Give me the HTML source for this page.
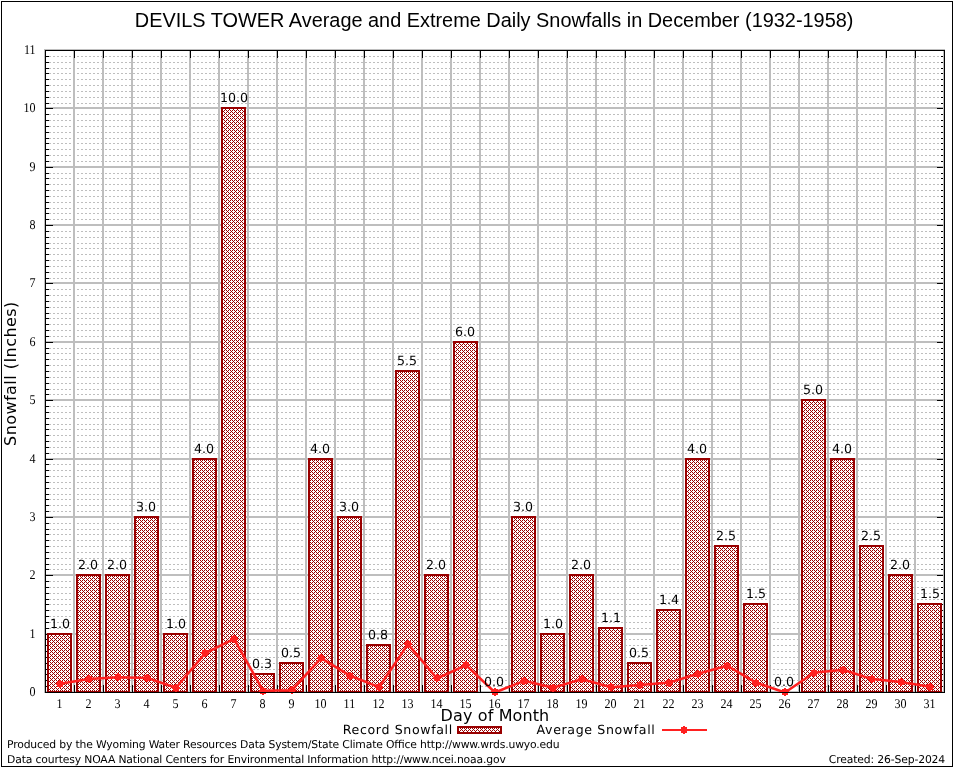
<!DOCTYPE html>
<html><head><meta charset="utf-8"><title>DEVILS TOWER Average and Extreme Daily Snowfalls in December</title>
<style>
html,body{margin:0;padding:0;background:#fff;}
body{width:954px;height:768px;overflow:hidden;position:relative;}
svg{position:absolute;left:0;top:0;display:block;}
.t{font-family:"Liberation Sans",sans-serif;font-size:19.9px;fill:#000;}
.s{font-family:"Liberation Serif",serif;font-size:13.4px;text-rendering:geometricPrecision;fill:#000;}
.d{font-family:"DejaVu Sans","Liberation Sans",sans-serif;fill:#000;}
.g{text-rendering:geometricPrecision;}
</style></head><body>
<svg width="954" height="768" viewBox="0 0 954 768">
<defs><pattern id="h" patternUnits="userSpaceOnUse" x="0" y="0" width="4" height="4">
<rect width="4" height="4" fill="#fff"/>
<path d="M0 0h1v1h-1zM2 0h1v1h-1zM1 1h1v1h-1zM0 2h1v1h-1zM2 2h1v1h-1zM3 3h1v1h-1z" fill="#990000"/>
</pattern></defs>
<rect width="954" height="768" fill="#fff"/>
<g shape-rendering="crispEdges">
<rect x="1.5" y="1.5" width="951" height="765" fill="none" stroke="#000" stroke-width="1"/>

<line x1="49" x2="941" y1="686.5" y2="686.5" stroke="#bebebe" stroke-width="1" stroke-dasharray="2 2"/>
<line x1="49" x2="941" y1="680.5" y2="680.5" stroke="#bebebe" stroke-width="1" stroke-dasharray="2 2"/>
<line x1="49" x2="941" y1="674.5" y2="674.5" stroke="#bebebe" stroke-width="1" stroke-dasharray="2 2"/>
<line x1="49" x2="941" y1="669.5" y2="669.5" stroke="#bebebe" stroke-width="1" stroke-dasharray="2 2"/>
<line x1="49" x2="941" y1="663.5" y2="663.5" stroke="#bebebe" stroke-width="1" stroke-dasharray="2 2"/>
<line x1="49" x2="941" y1="657.5" y2="657.5" stroke="#bebebe" stroke-width="1" stroke-dasharray="2 2"/>
<line x1="49" x2="941" y1="651.5" y2="651.5" stroke="#bebebe" stroke-width="1" stroke-dasharray="2 2"/>
<line x1="49" x2="941" y1="645.5" y2="645.5" stroke="#bebebe" stroke-width="1" stroke-dasharray="2 2"/>
<line x1="49" x2="941" y1="639.5" y2="639.5" stroke="#bebebe" stroke-width="1" stroke-dasharray="2 2"/>
<line x1="49" x2="941" y1="628.5" y2="628.5" stroke="#bebebe" stroke-width="1" stroke-dasharray="2 2"/>
<line x1="49" x2="941" y1="622.5" y2="622.5" stroke="#bebebe" stroke-width="1" stroke-dasharray="2 2"/>
<line x1="49" x2="941" y1="616.5" y2="616.5" stroke="#bebebe" stroke-width="1" stroke-dasharray="2 2"/>
<line x1="49" x2="941" y1="610.5" y2="610.5" stroke="#bebebe" stroke-width="1" stroke-dasharray="2 2"/>
<line x1="49" x2="941" y1="604.5" y2="604.5" stroke="#bebebe" stroke-width="1" stroke-dasharray="2 2"/>
<line x1="49" x2="941" y1="599.5" y2="599.5" stroke="#bebebe" stroke-width="1" stroke-dasharray="2 2"/>
<line x1="49" x2="941" y1="593.5" y2="593.5" stroke="#bebebe" stroke-width="1" stroke-dasharray="2 2"/>
<line x1="49" x2="941" y1="587.5" y2="587.5" stroke="#bebebe" stroke-width="1" stroke-dasharray="2 2"/>
<line x1="49" x2="941" y1="581.5" y2="581.5" stroke="#bebebe" stroke-width="1" stroke-dasharray="2 2"/>
<line x1="49" x2="941" y1="569.5" y2="569.5" stroke="#bebebe" stroke-width="1" stroke-dasharray="2 2"/>
<line x1="49" x2="941" y1="564.5" y2="564.5" stroke="#bebebe" stroke-width="1" stroke-dasharray="2 2"/>
<line x1="49" x2="941" y1="558.5" y2="558.5" stroke="#bebebe" stroke-width="1" stroke-dasharray="2 2"/>
<line x1="49" x2="941" y1="552.5" y2="552.5" stroke="#bebebe" stroke-width="1" stroke-dasharray="2 2"/>
<line x1="49" x2="941" y1="546.5" y2="546.5" stroke="#bebebe" stroke-width="1" stroke-dasharray="2 2"/>
<line x1="49" x2="941" y1="540.5" y2="540.5" stroke="#bebebe" stroke-width="1" stroke-dasharray="2 2"/>
<line x1="49" x2="941" y1="534.5" y2="534.5" stroke="#bebebe" stroke-width="1" stroke-dasharray="2 2"/>
<line x1="49" x2="941" y1="529.5" y2="529.5" stroke="#bebebe" stroke-width="1" stroke-dasharray="2 2"/>
<line x1="49" x2="941" y1="523.5" y2="523.5" stroke="#bebebe" stroke-width="1" stroke-dasharray="2 2"/>
<line x1="49" x2="941" y1="511.5" y2="511.5" stroke="#bebebe" stroke-width="1" stroke-dasharray="2 2"/>
<line x1="49" x2="941" y1="505.5" y2="505.5" stroke="#bebebe" stroke-width="1" stroke-dasharray="2 2"/>
<line x1="49" x2="941" y1="499.5" y2="499.5" stroke="#bebebe" stroke-width="1" stroke-dasharray="2 2"/>
<line x1="49" x2="941" y1="494.5" y2="494.5" stroke="#bebebe" stroke-width="1" stroke-dasharray="2 2"/>
<line x1="49" x2="941" y1="488.5" y2="488.5" stroke="#bebebe" stroke-width="1" stroke-dasharray="2 2"/>
<line x1="49" x2="941" y1="482.5" y2="482.5" stroke="#bebebe" stroke-width="1" stroke-dasharray="2 2"/>
<line x1="49" x2="941" y1="476.5" y2="476.5" stroke="#bebebe" stroke-width="1" stroke-dasharray="2 2"/>
<line x1="49" x2="941" y1="470.5" y2="470.5" stroke="#bebebe" stroke-width="1" stroke-dasharray="2 2"/>
<line x1="49" x2="941" y1="464.5" y2="464.5" stroke="#bebebe" stroke-width="1" stroke-dasharray="2 2"/>
<line x1="49" x2="941" y1="453.5" y2="453.5" stroke="#bebebe" stroke-width="1" stroke-dasharray="2 2"/>
<line x1="49" x2="941" y1="447.5" y2="447.5" stroke="#bebebe" stroke-width="1" stroke-dasharray="2 2"/>
<line x1="49" x2="941" y1="441.5" y2="441.5" stroke="#bebebe" stroke-width="1" stroke-dasharray="2 2"/>
<line x1="49" x2="941" y1="435.5" y2="435.5" stroke="#bebebe" stroke-width="1" stroke-dasharray="2 2"/>
<line x1="49" x2="941" y1="429.5" y2="429.5" stroke="#bebebe" stroke-width="1" stroke-dasharray="2 2"/>
<line x1="49" x2="941" y1="424.5" y2="424.5" stroke="#bebebe" stroke-width="1" stroke-dasharray="2 2"/>
<line x1="49" x2="941" y1="418.5" y2="418.5" stroke="#bebebe" stroke-width="1" stroke-dasharray="2 2"/>
<line x1="49" x2="941" y1="412.5" y2="412.5" stroke="#bebebe" stroke-width="1" stroke-dasharray="2 2"/>
<line x1="49" x2="941" y1="406.5" y2="406.5" stroke="#bebebe" stroke-width="1" stroke-dasharray="2 2"/>
<line x1="49" x2="941" y1="394.5" y2="394.5" stroke="#bebebe" stroke-width="1" stroke-dasharray="2 2"/>
<line x1="49" x2="941" y1="389.5" y2="389.5" stroke="#bebebe" stroke-width="1" stroke-dasharray="2 2"/>
<line x1="49" x2="941" y1="383.5" y2="383.5" stroke="#bebebe" stroke-width="1" stroke-dasharray="2 2"/>
<line x1="49" x2="941" y1="377.5" y2="377.5" stroke="#bebebe" stroke-width="1" stroke-dasharray="2 2"/>
<line x1="49" x2="941" y1="371.5" y2="371.5" stroke="#bebebe" stroke-width="1" stroke-dasharray="2 2"/>
<line x1="49" x2="941" y1="365.5" y2="365.5" stroke="#bebebe" stroke-width="1" stroke-dasharray="2 2"/>
<line x1="49" x2="941" y1="359.5" y2="359.5" stroke="#bebebe" stroke-width="1" stroke-dasharray="2 2"/>
<line x1="49" x2="941" y1="353.5" y2="353.5" stroke="#bebebe" stroke-width="1" stroke-dasharray="2 2"/>
<line x1="49" x2="941" y1="348.5" y2="348.5" stroke="#bebebe" stroke-width="1" stroke-dasharray="2 2"/>
<line x1="49" x2="941" y1="336.5" y2="336.5" stroke="#bebebe" stroke-width="1" stroke-dasharray="2 2"/>
<line x1="49" x2="941" y1="330.5" y2="330.5" stroke="#bebebe" stroke-width="1" stroke-dasharray="2 2"/>
<line x1="49" x2="941" y1="324.5" y2="324.5" stroke="#bebebe" stroke-width="1" stroke-dasharray="2 2"/>
<line x1="49" x2="941" y1="318.5" y2="318.5" stroke="#bebebe" stroke-width="1" stroke-dasharray="2 2"/>
<line x1="49" x2="941" y1="313.5" y2="313.5" stroke="#bebebe" stroke-width="1" stroke-dasharray="2 2"/>
<line x1="49" x2="941" y1="307.5" y2="307.5" stroke="#bebebe" stroke-width="1" stroke-dasharray="2 2"/>
<line x1="49" x2="941" y1="301.5" y2="301.5" stroke="#bebebe" stroke-width="1" stroke-dasharray="2 2"/>
<line x1="49" x2="941" y1="295.5" y2="295.5" stroke="#bebebe" stroke-width="1" stroke-dasharray="2 2"/>
<line x1="49" x2="941" y1="289.5" y2="289.5" stroke="#bebebe" stroke-width="1" stroke-dasharray="2 2"/>
<line x1="49" x2="941" y1="278.5" y2="278.5" stroke="#bebebe" stroke-width="1" stroke-dasharray="2 2"/>
<line x1="49" x2="941" y1="272.5" y2="272.5" stroke="#bebebe" stroke-width="1" stroke-dasharray="2 2"/>
<line x1="49" x2="941" y1="266.5" y2="266.5" stroke="#bebebe" stroke-width="1" stroke-dasharray="2 2"/>
<line x1="49" x2="941" y1="260.5" y2="260.5" stroke="#bebebe" stroke-width="1" stroke-dasharray="2 2"/>
<line x1="49" x2="941" y1="254.5" y2="254.5" stroke="#bebebe" stroke-width="1" stroke-dasharray="2 2"/>
<line x1="49" x2="941" y1="248.5" y2="248.5" stroke="#bebebe" stroke-width="1" stroke-dasharray="2 2"/>
<line x1="49" x2="941" y1="243.5" y2="243.5" stroke="#bebebe" stroke-width="1" stroke-dasharray="2 2"/>
<line x1="49" x2="941" y1="237.5" y2="237.5" stroke="#bebebe" stroke-width="1" stroke-dasharray="2 2"/>
<line x1="49" x2="941" y1="231.5" y2="231.5" stroke="#bebebe" stroke-width="1" stroke-dasharray="2 2"/>
<line x1="49" x2="941" y1="219.5" y2="219.5" stroke="#bebebe" stroke-width="1" stroke-dasharray="2 2"/>
<line x1="49" x2="941" y1="213.5" y2="213.5" stroke="#bebebe" stroke-width="1" stroke-dasharray="2 2"/>
<line x1="49" x2="941" y1="208.5" y2="208.5" stroke="#bebebe" stroke-width="1" stroke-dasharray="2 2"/>
<line x1="49" x2="941" y1="202.5" y2="202.5" stroke="#bebebe" stroke-width="1" stroke-dasharray="2 2"/>
<line x1="49" x2="941" y1="196.5" y2="196.5" stroke="#bebebe" stroke-width="1" stroke-dasharray="2 2"/>
<line x1="49" x2="941" y1="190.5" y2="190.5" stroke="#bebebe" stroke-width="1" stroke-dasharray="2 2"/>
<line x1="49" x2="941" y1="184.5" y2="184.5" stroke="#bebebe" stroke-width="1" stroke-dasharray="2 2"/>
<line x1="49" x2="941" y1="178.5" y2="178.5" stroke="#bebebe" stroke-width="1" stroke-dasharray="2 2"/>
<line x1="49" x2="941" y1="173.5" y2="173.5" stroke="#bebebe" stroke-width="1" stroke-dasharray="2 2"/>
<line x1="49" x2="941" y1="161.5" y2="161.5" stroke="#bebebe" stroke-width="1" stroke-dasharray="2 2"/>
<line x1="49" x2="941" y1="155.5" y2="155.5" stroke="#bebebe" stroke-width="1" stroke-dasharray="2 2"/>
<line x1="49" x2="941" y1="149.5" y2="149.5" stroke="#bebebe" stroke-width="1" stroke-dasharray="2 2"/>
<line x1="49" x2="941" y1="143.5" y2="143.5" stroke="#bebebe" stroke-width="1" stroke-dasharray="2 2"/>
<line x1="49" x2="941" y1="138.5" y2="138.5" stroke="#bebebe" stroke-width="1" stroke-dasharray="2 2"/>
<line x1="49" x2="941" y1="132.5" y2="132.5" stroke="#bebebe" stroke-width="1" stroke-dasharray="2 2"/>
<line x1="49" x2="941" y1="126.5" y2="126.5" stroke="#bebebe" stroke-width="1" stroke-dasharray="2 2"/>
<line x1="49" x2="941" y1="120.5" y2="120.5" stroke="#bebebe" stroke-width="1" stroke-dasharray="2 2"/>
<line x1="49" x2="941" y1="114.5" y2="114.5" stroke="#bebebe" stroke-width="1" stroke-dasharray="2 2"/>
<line x1="49" x2="941" y1="103.5" y2="103.5" stroke="#bebebe" stroke-width="1" stroke-dasharray="2 2"/>
<line x1="49" x2="941" y1="97.5" y2="97.5" stroke="#bebebe" stroke-width="1" stroke-dasharray="2 2"/>
<line x1="49" x2="941" y1="91.5" y2="91.5" stroke="#bebebe" stroke-width="1" stroke-dasharray="2 2"/>
<line x1="49" x2="941" y1="85.5" y2="85.5" stroke="#bebebe" stroke-width="1" stroke-dasharray="2 2"/>
<line x1="49" x2="941" y1="79.5" y2="79.5" stroke="#bebebe" stroke-width="1" stroke-dasharray="2 2"/>
<line x1="49" x2="941" y1="73.5" y2="73.5" stroke="#bebebe" stroke-width="1" stroke-dasharray="2 2"/>
<line x1="49" x2="941" y1="68.5" y2="68.5" stroke="#bebebe" stroke-width="1" stroke-dasharray="2 2"/>
<line x1="49" x2="941" y1="62.5" y2="62.5" stroke="#bebebe" stroke-width="1" stroke-dasharray="2 2"/>
<line x1="49" x2="941" y1="56.5" y2="56.5" stroke="#bebebe" stroke-width="1" stroke-dasharray="2 2"/>
<rect x="44" y="691" width="901" height="2" fill="#bebebe"/>
<rect x="44" y="633" width="901" height="2" fill="#bebebe"/>
<rect x="44" y="574" width="901" height="2" fill="#bebebe"/>
<rect x="44" y="516" width="901" height="2" fill="#bebebe"/>
<rect x="44" y="458" width="901" height="2" fill="#bebebe"/>
<rect x="44" y="399" width="901" height="2" fill="#bebebe"/>
<rect x="44" y="341" width="901" height="2" fill="#bebebe"/>
<rect x="44" y="282" width="901" height="2" fill="#bebebe"/>
<rect x="44" y="224" width="901" height="2" fill="#bebebe"/>
<rect x="44" y="166" width="901" height="2" fill="#bebebe"/>
<rect x="44" y="107" width="901" height="2" fill="#bebebe"/>
<rect x="44" y="49" width="901" height="2" fill="#bebebe"/>
<rect fill="#000" x="45" y="692" width="8" height="1"/><rect fill="#000" x="937" y="692" width="8" height="1"/>
<rect fill="#000" x="45" y="686" width="4" height="1"/><rect fill="#000" x="941" y="686" width="4" height="1"/>
<rect fill="#000" x="45" y="680" width="4" height="1"/><rect fill="#000" x="941" y="680" width="4" height="1"/>
<rect fill="#000" x="45" y="674" width="4" height="1"/><rect fill="#000" x="941" y="674" width="4" height="1"/>
<rect fill="#000" x="45" y="669" width="4" height="1"/><rect fill="#000" x="941" y="669" width="4" height="1"/>
<rect fill="#000" x="45" y="663" width="4" height="1"/><rect fill="#000" x="941" y="663" width="4" height="1"/>
<rect fill="#000" x="45" y="657" width="4" height="1"/><rect fill="#000" x="941" y="657" width="4" height="1"/>
<rect fill="#000" x="45" y="651" width="4" height="1"/><rect fill="#000" x="941" y="651" width="4" height="1"/>
<rect fill="#000" x="45" y="645" width="4" height="1"/><rect fill="#000" x="941" y="645" width="4" height="1"/>
<rect fill="#000" x="45" y="639" width="4" height="1"/><rect fill="#000" x="941" y="639" width="4" height="1"/>
<rect fill="#000" x="45" y="634" width="8" height="1"/><rect fill="#000" x="937" y="634" width="8" height="1"/>
<rect fill="#000" x="45" y="628" width="4" height="1"/><rect fill="#000" x="941" y="628" width="4" height="1"/>
<rect fill="#000" x="45" y="622" width="4" height="1"/><rect fill="#000" x="941" y="622" width="4" height="1"/>
<rect fill="#000" x="45" y="616" width="4" height="1"/><rect fill="#000" x="941" y="616" width="4" height="1"/>
<rect fill="#000" x="45" y="610" width="4" height="1"/><rect fill="#000" x="941" y="610" width="4" height="1"/>
<rect fill="#000" x="45" y="604" width="4" height="1"/><rect fill="#000" x="941" y="604" width="4" height="1"/>
<rect fill="#000" x="45" y="599" width="4" height="1"/><rect fill="#000" x="941" y="599" width="4" height="1"/>
<rect fill="#000" x="45" y="593" width="4" height="1"/><rect fill="#000" x="941" y="593" width="4" height="1"/>
<rect fill="#000" x="45" y="587" width="4" height="1"/><rect fill="#000" x="941" y="587" width="4" height="1"/>
<rect fill="#000" x="45" y="581" width="4" height="1"/><rect fill="#000" x="941" y="581" width="4" height="1"/>
<rect fill="#000" x="45" y="575" width="8" height="1"/><rect fill="#000" x="937" y="575" width="8" height="1"/>
<rect fill="#000" x="45" y="569" width="4" height="1"/><rect fill="#000" x="941" y="569" width="4" height="1"/>
<rect fill="#000" x="45" y="564" width="4" height="1"/><rect fill="#000" x="941" y="564" width="4" height="1"/>
<rect fill="#000" x="45" y="558" width="4" height="1"/><rect fill="#000" x="941" y="558" width="4" height="1"/>
<rect fill="#000" x="45" y="552" width="4" height="1"/><rect fill="#000" x="941" y="552" width="4" height="1"/>
<rect fill="#000" x="45" y="546" width="4" height="1"/><rect fill="#000" x="941" y="546" width="4" height="1"/>
<rect fill="#000" x="45" y="540" width="4" height="1"/><rect fill="#000" x="941" y="540" width="4" height="1"/>
<rect fill="#000" x="45" y="534" width="4" height="1"/><rect fill="#000" x="941" y="534" width="4" height="1"/>
<rect fill="#000" x="45" y="529" width="4" height="1"/><rect fill="#000" x="941" y="529" width="4" height="1"/>
<rect fill="#000" x="45" y="523" width="4" height="1"/><rect fill="#000" x="941" y="523" width="4" height="1"/>
<rect fill="#000" x="45" y="517" width="8" height="1"/><rect fill="#000" x="937" y="517" width="8" height="1"/>
<rect fill="#000" x="45" y="511" width="4" height="1"/><rect fill="#000" x="941" y="511" width="4" height="1"/>
<rect fill="#000" x="45" y="505" width="4" height="1"/><rect fill="#000" x="941" y="505" width="4" height="1"/>
<rect fill="#000" x="45" y="499" width="4" height="1"/><rect fill="#000" x="941" y="499" width="4" height="1"/>
<rect fill="#000" x="45" y="494" width="4" height="1"/><rect fill="#000" x="941" y="494" width="4" height="1"/>
<rect fill="#000" x="45" y="488" width="4" height="1"/><rect fill="#000" x="941" y="488" width="4" height="1"/>
<rect fill="#000" x="45" y="482" width="4" height="1"/><rect fill="#000" x="941" y="482" width="4" height="1"/>
<rect fill="#000" x="45" y="476" width="4" height="1"/><rect fill="#000" x="941" y="476" width="4" height="1"/>
<rect fill="#000" x="45" y="470" width="4" height="1"/><rect fill="#000" x="941" y="470" width="4" height="1"/>
<rect fill="#000" x="45" y="464" width="4" height="1"/><rect fill="#000" x="941" y="464" width="4" height="1"/>
<rect fill="#000" x="45" y="459" width="8" height="1"/><rect fill="#000" x="937" y="459" width="8" height="1"/>
<rect fill="#000" x="45" y="453" width="4" height="1"/><rect fill="#000" x="941" y="453" width="4" height="1"/>
<rect fill="#000" x="45" y="447" width="4" height="1"/><rect fill="#000" x="941" y="447" width="4" height="1"/>
<rect fill="#000" x="45" y="441" width="4" height="1"/><rect fill="#000" x="941" y="441" width="4" height="1"/>
<rect fill="#000" x="45" y="435" width="4" height="1"/><rect fill="#000" x="941" y="435" width="4" height="1"/>
<rect fill="#000" x="45" y="429" width="4" height="1"/><rect fill="#000" x="941" y="429" width="4" height="1"/>
<rect fill="#000" x="45" y="424" width="4" height="1"/><rect fill="#000" x="941" y="424" width="4" height="1"/>
<rect fill="#000" x="45" y="418" width="4" height="1"/><rect fill="#000" x="941" y="418" width="4" height="1"/>
<rect fill="#000" x="45" y="412" width="4" height="1"/><rect fill="#000" x="941" y="412" width="4" height="1"/>
<rect fill="#000" x="45" y="406" width="4" height="1"/><rect fill="#000" x="941" y="406" width="4" height="1"/>
<rect fill="#000" x="45" y="400" width="8" height="1"/><rect fill="#000" x="937" y="400" width="8" height="1"/>
<rect fill="#000" x="45" y="394" width="4" height="1"/><rect fill="#000" x="941" y="394" width="4" height="1"/>
<rect fill="#000" x="45" y="389" width="4" height="1"/><rect fill="#000" x="941" y="389" width="4" height="1"/>
<rect fill="#000" x="45" y="383" width="4" height="1"/><rect fill="#000" x="941" y="383" width="4" height="1"/>
<rect fill="#000" x="45" y="377" width="4" height="1"/><rect fill="#000" x="941" y="377" width="4" height="1"/>
<rect fill="#000" x="45" y="371" width="4" height="1"/><rect fill="#000" x="941" y="371" width="4" height="1"/>
<rect fill="#000" x="45" y="365" width="4" height="1"/><rect fill="#000" x="941" y="365" width="4" height="1"/>
<rect fill="#000" x="45" y="359" width="4" height="1"/><rect fill="#000" x="941" y="359" width="4" height="1"/>
<rect fill="#000" x="45" y="353" width="4" height="1"/><rect fill="#000" x="941" y="353" width="4" height="1"/>
<rect fill="#000" x="45" y="348" width="4" height="1"/><rect fill="#000" x="941" y="348" width="4" height="1"/>
<rect fill="#000" x="45" y="342" width="8" height="1"/><rect fill="#000" x="937" y="342" width="8" height="1"/>
<rect fill="#000" x="45" y="336" width="4" height="1"/><rect fill="#000" x="941" y="336" width="4" height="1"/>
<rect fill="#000" x="45" y="330" width="4" height="1"/><rect fill="#000" x="941" y="330" width="4" height="1"/>
<rect fill="#000" x="45" y="324" width="4" height="1"/><rect fill="#000" x="941" y="324" width="4" height="1"/>
<rect fill="#000" x="45" y="318" width="4" height="1"/><rect fill="#000" x="941" y="318" width="4" height="1"/>
<rect fill="#000" x="45" y="313" width="4" height="1"/><rect fill="#000" x="941" y="313" width="4" height="1"/>
<rect fill="#000" x="45" y="307" width="4" height="1"/><rect fill="#000" x="941" y="307" width="4" height="1"/>
<rect fill="#000" x="45" y="301" width="4" height="1"/><rect fill="#000" x="941" y="301" width="4" height="1"/>
<rect fill="#000" x="45" y="295" width="4" height="1"/><rect fill="#000" x="941" y="295" width="4" height="1"/>
<rect fill="#000" x="45" y="289" width="4" height="1"/><rect fill="#000" x="941" y="289" width="4" height="1"/>
<rect fill="#000" x="45" y="283" width="8" height="1"/><rect fill="#000" x="937" y="283" width="8" height="1"/>
<rect fill="#000" x="45" y="278" width="4" height="1"/><rect fill="#000" x="941" y="278" width="4" height="1"/>
<rect fill="#000" x="45" y="272" width="4" height="1"/><rect fill="#000" x="941" y="272" width="4" height="1"/>
<rect fill="#000" x="45" y="266" width="4" height="1"/><rect fill="#000" x="941" y="266" width="4" height="1"/>
<rect fill="#000" x="45" y="260" width="4" height="1"/><rect fill="#000" x="941" y="260" width="4" height="1"/>
<rect fill="#000" x="45" y="254" width="4" height="1"/><rect fill="#000" x="941" y="254" width="4" height="1"/>
<rect fill="#000" x="45" y="248" width="4" height="1"/><rect fill="#000" x="941" y="248" width="4" height="1"/>
<rect fill="#000" x="45" y="243" width="4" height="1"/><rect fill="#000" x="941" y="243" width="4" height="1"/>
<rect fill="#000" x="45" y="237" width="4" height="1"/><rect fill="#000" x="941" y="237" width="4" height="1"/>
<rect fill="#000" x="45" y="231" width="4" height="1"/><rect fill="#000" x="941" y="231" width="4" height="1"/>
<rect fill="#000" x="45" y="225" width="8" height="1"/><rect fill="#000" x="937" y="225" width="8" height="1"/>
<rect fill="#000" x="45" y="219" width="4" height="1"/><rect fill="#000" x="941" y="219" width="4" height="1"/>
<rect fill="#000" x="45" y="213" width="4" height="1"/><rect fill="#000" x="941" y="213" width="4" height="1"/>
<rect fill="#000" x="45" y="208" width="4" height="1"/><rect fill="#000" x="941" y="208" width="4" height="1"/>
<rect fill="#000" x="45" y="202" width="4" height="1"/><rect fill="#000" x="941" y="202" width="4" height="1"/>
<rect fill="#000" x="45" y="196" width="4" height="1"/><rect fill="#000" x="941" y="196" width="4" height="1"/>
<rect fill="#000" x="45" y="190" width="4" height="1"/><rect fill="#000" x="941" y="190" width="4" height="1"/>
<rect fill="#000" x="45" y="184" width="4" height="1"/><rect fill="#000" x="941" y="184" width="4" height="1"/>
<rect fill="#000" x="45" y="178" width="4" height="1"/><rect fill="#000" x="941" y="178" width="4" height="1"/>
<rect fill="#000" x="45" y="173" width="4" height="1"/><rect fill="#000" x="941" y="173" width="4" height="1"/>
<rect fill="#000" x="45" y="167" width="8" height="1"/><rect fill="#000" x="937" y="167" width="8" height="1"/>
<rect fill="#000" x="45" y="161" width="4" height="1"/><rect fill="#000" x="941" y="161" width="4" height="1"/>
<rect fill="#000" x="45" y="155" width="4" height="1"/><rect fill="#000" x="941" y="155" width="4" height="1"/>
<rect fill="#000" x="45" y="149" width="4" height="1"/><rect fill="#000" x="941" y="149" width="4" height="1"/>
<rect fill="#000" x="45" y="143" width="4" height="1"/><rect fill="#000" x="941" y="143" width="4" height="1"/>
<rect fill="#000" x="45" y="138" width="4" height="1"/><rect fill="#000" x="941" y="138" width="4" height="1"/>
<rect fill="#000" x="45" y="132" width="4" height="1"/><rect fill="#000" x="941" y="132" width="4" height="1"/>
<rect fill="#000" x="45" y="126" width="4" height="1"/><rect fill="#000" x="941" y="126" width="4" height="1"/>
<rect fill="#000" x="45" y="120" width="4" height="1"/><rect fill="#000" x="941" y="120" width="4" height="1"/>
<rect fill="#000" x="45" y="114" width="4" height="1"/><rect fill="#000" x="941" y="114" width="4" height="1"/>
<rect fill="#000" x="45" y="108" width="8" height="1"/><rect fill="#000" x="937" y="108" width="8" height="1"/>
<rect fill="#000" x="45" y="103" width="4" height="1"/><rect fill="#000" x="941" y="103" width="4" height="1"/>
<rect fill="#000" x="45" y="97" width="4" height="1"/><rect fill="#000" x="941" y="97" width="4" height="1"/>
<rect fill="#000" x="45" y="91" width="4" height="1"/><rect fill="#000" x="941" y="91" width="4" height="1"/>
<rect fill="#000" x="45" y="85" width="4" height="1"/><rect fill="#000" x="941" y="85" width="4" height="1"/>
<rect fill="#000" x="45" y="79" width="4" height="1"/><rect fill="#000" x="941" y="79" width="4" height="1"/>
<rect fill="#000" x="45" y="73" width="4" height="1"/><rect fill="#000" x="941" y="73" width="4" height="1"/>
<rect fill="#000" x="45" y="68" width="4" height="1"/><rect fill="#000" x="941" y="68" width="4" height="1"/>
<rect fill="#000" x="45" y="62" width="4" height="1"/><rect fill="#000" x="941" y="62" width="4" height="1"/>
<rect fill="#000" x="45" y="56" width="4" height="1"/><rect fill="#000" x="941" y="56" width="4" height="1"/>
<rect fill="#000" x="45" y="50" width="8" height="1"/><rect fill="#000" x="937" y="50" width="8" height="1"/>
<rect x="44" y="49" width="2" height="644" fill="#bebebe"/>
<rect x="73" y="49" width="2" height="644" fill="#bebebe"/>
<rect x="102" y="49" width="2" height="644" fill="#bebebe"/>
<rect x="131" y="49" width="2" height="644" fill="#bebebe"/>
<rect x="160" y="49" width="2" height="644" fill="#bebebe"/>
<rect x="189" y="49" width="2" height="644" fill="#bebebe"/>
<rect x="218" y="49" width="2" height="644" fill="#bebebe"/>
<rect x="247" y="49" width="2" height="644" fill="#bebebe"/>
<rect x="276" y="49" width="2" height="644" fill="#bebebe"/>
<rect x="305" y="49" width="2" height="644" fill="#bebebe"/>
<rect x="334" y="49" width="2" height="644" fill="#bebebe"/>
<rect x="363" y="49" width="2" height="644" fill="#bebebe"/>
<rect x="392" y="49" width="2" height="644" fill="#bebebe"/>
<rect x="421" y="49" width="2" height="644" fill="#bebebe"/>
<rect x="450" y="49" width="2" height="644" fill="#bebebe"/>
<rect x="479" y="49" width="2" height="644" fill="#bebebe"/>
<rect x="508" y="49" width="2" height="644" fill="#bebebe"/>
<rect x="537" y="49" width="2" height="644" fill="#bebebe"/>
<rect x="566" y="49" width="2" height="644" fill="#bebebe"/>
<rect x="595" y="49" width="2" height="644" fill="#bebebe"/>
<rect x="624" y="49" width="2" height="644" fill="#bebebe"/>
<rect x="653" y="49" width="2" height="644" fill="#bebebe"/>
<rect x="682" y="49" width="2" height="644" fill="#bebebe"/>
<rect x="711" y="49" width="2" height="644" fill="#bebebe"/>
<rect x="740" y="49" width="2" height="644" fill="#bebebe"/>
<rect x="769" y="49" width="2" height="644" fill="#bebebe"/>
<rect x="798" y="49" width="2" height="644" fill="#bebebe"/>
<rect x="827" y="49" width="2" height="644" fill="#bebebe"/>
<rect x="856" y="49" width="2" height="644" fill="#bebebe"/>
<rect x="885" y="49" width="2" height="644" fill="#bebebe"/>
<rect x="914" y="49" width="2" height="644" fill="#bebebe"/>
<rect x="943" y="49" width="2" height="644" fill="#bebebe"/>
<rect fill="#000" x="74" y="50" width="1" height="8"/><rect fill="#000" x="74" y="685" width="1" height="8"/>
<rect fill="#000" x="103" y="50" width="1" height="8"/><rect fill="#000" x="103" y="685" width="1" height="8"/>
<rect fill="#000" x="132" y="50" width="1" height="8"/><rect fill="#000" x="132" y="685" width="1" height="8"/>
<rect fill="#000" x="161" y="50" width="1" height="8"/><rect fill="#000" x="161" y="685" width="1" height="8"/>
<rect fill="#000" x="190" y="50" width="1" height="8"/><rect fill="#000" x="190" y="685" width="1" height="8"/>
<rect fill="#000" x="219" y="50" width="1" height="8"/><rect fill="#000" x="219" y="685" width="1" height="8"/>
<rect fill="#000" x="248" y="50" width="1" height="8"/><rect fill="#000" x="248" y="685" width="1" height="8"/>
<rect fill="#000" x="277" y="50" width="1" height="8"/><rect fill="#000" x="277" y="685" width="1" height="8"/>
<rect fill="#000" x="306" y="50" width="1" height="8"/><rect fill="#000" x="306" y="685" width="1" height="8"/>
<rect fill="#000" x="335" y="50" width="1" height="8"/><rect fill="#000" x="335" y="685" width="1" height="8"/>
<rect fill="#000" x="364" y="50" width="1" height="8"/><rect fill="#000" x="364" y="685" width="1" height="8"/>
<rect fill="#000" x="393" y="50" width="1" height="8"/><rect fill="#000" x="393" y="685" width="1" height="8"/>
<rect fill="#000" x="422" y="50" width="1" height="8"/><rect fill="#000" x="422" y="685" width="1" height="8"/>
<rect fill="#000" x="451" y="50" width="1" height="8"/><rect fill="#000" x="451" y="685" width="1" height="8"/>
<rect fill="#000" x="480" y="50" width="1" height="8"/><rect fill="#000" x="480" y="685" width="1" height="8"/>
<rect fill="#000" x="509" y="50" width="1" height="8"/><rect fill="#000" x="509" y="685" width="1" height="8"/>
<rect fill="#000" x="538" y="50" width="1" height="8"/><rect fill="#000" x="538" y="685" width="1" height="8"/>
<rect fill="#000" x="567" y="50" width="1" height="8"/><rect fill="#000" x="567" y="685" width="1" height="8"/>
<rect fill="#000" x="596" y="50" width="1" height="8"/><rect fill="#000" x="596" y="685" width="1" height="8"/>
<rect fill="#000" x="625" y="50" width="1" height="8"/><rect fill="#000" x="625" y="685" width="1" height="8"/>
<rect fill="#000" x="654" y="50" width="1" height="8"/><rect fill="#000" x="654" y="685" width="1" height="8"/>
<rect fill="#000" x="683" y="50" width="1" height="8"/><rect fill="#000" x="683" y="685" width="1" height="8"/>
<rect fill="#000" x="712" y="50" width="1" height="8"/><rect fill="#000" x="712" y="685" width="1" height="8"/>
<rect fill="#000" x="741" y="50" width="1" height="8"/><rect fill="#000" x="741" y="685" width="1" height="8"/>
<rect fill="#000" x="770" y="50" width="1" height="8"/><rect fill="#000" x="770" y="685" width="1" height="8"/>
<rect fill="#000" x="799" y="50" width="1" height="8"/><rect fill="#000" x="799" y="685" width="1" height="8"/>
<rect fill="#000" x="828" y="50" width="1" height="8"/><rect fill="#000" x="828" y="685" width="1" height="8"/>
<rect fill="#000" x="857" y="50" width="1" height="8"/><rect fill="#000" x="857" y="685" width="1" height="8"/>
<rect fill="#000" x="886" y="50" width="1" height="8"/><rect fill="#000" x="886" y="685" width="1" height="8"/>
<rect fill="#000" x="915" y="50" width="1" height="8"/><rect fill="#000" x="915" y="685" width="1" height="8"/>
<rect x="47" y="633" width="25" height="59" fill="url(#h)"/>
<rect x="48" y="634" width="23" height="58" fill="none" stroke="#990000" stroke-width="2"/>
<rect x="76" y="574" width="25" height="118" fill="url(#h)"/>
<rect x="77" y="575" width="23" height="117" fill="none" stroke="#990000" stroke-width="2"/>
<rect x="105" y="574" width="25" height="118" fill="url(#h)"/>
<rect x="106" y="575" width="23" height="117" fill="none" stroke="#990000" stroke-width="2"/>
<rect x="134" y="516" width="25" height="176" fill="url(#h)"/>
<rect x="135" y="517" width="23" height="175" fill="none" stroke="#990000" stroke-width="2"/>
<rect x="163" y="633" width="25" height="59" fill="url(#h)"/>
<rect x="164" y="634" width="23" height="58" fill="none" stroke="#990000" stroke-width="2"/>
<rect x="192" y="458" width="25" height="234" fill="url(#h)"/>
<rect x="193" y="459" width="23" height="233" fill="none" stroke="#990000" stroke-width="2"/>
<rect x="221" y="107" width="25" height="585" fill="url(#h)"/>
<rect x="222" y="108" width="23" height="584" fill="none" stroke="#990000" stroke-width="2"/>
<rect x="250" y="673" width="25" height="19" fill="url(#h)"/>
<rect x="251" y="674" width="23" height="18" fill="none" stroke="#990000" stroke-width="2"/>
<rect x="279" y="662" width="25" height="30" fill="url(#h)"/>
<rect x="280" y="663" width="23" height="29" fill="none" stroke="#990000" stroke-width="2"/>
<rect x="308" y="458" width="25" height="234" fill="url(#h)"/>
<rect x="309" y="459" width="23" height="233" fill="none" stroke="#990000" stroke-width="2"/>
<rect x="337" y="516" width="25" height="176" fill="url(#h)"/>
<rect x="338" y="517" width="23" height="175" fill="none" stroke="#990000" stroke-width="2"/>
<rect x="366" y="644" width="25" height="48" fill="url(#h)"/>
<rect x="367" y="645" width="23" height="47" fill="none" stroke="#990000" stroke-width="2"/>
<rect x="395" y="370" width="25" height="322" fill="url(#h)"/>
<rect x="396" y="371" width="23" height="321" fill="none" stroke="#990000" stroke-width="2"/>
<rect x="424" y="574" width="25" height="118" fill="url(#h)"/>
<rect x="425" y="575" width="23" height="117" fill="none" stroke="#990000" stroke-width="2"/>
<rect x="453" y="341" width="25" height="351" fill="url(#h)"/>
<rect x="454" y="342" width="23" height="350" fill="none" stroke="#990000" stroke-width="2"/>
<rect x="511" y="516" width="25" height="176" fill="url(#h)"/>
<rect x="512" y="517" width="23" height="175" fill="none" stroke="#990000" stroke-width="2"/>
<rect x="540" y="633" width="25" height="59" fill="url(#h)"/>
<rect x="541" y="634" width="23" height="58" fill="none" stroke="#990000" stroke-width="2"/>
<rect x="569" y="574" width="25" height="118" fill="url(#h)"/>
<rect x="570" y="575" width="23" height="117" fill="none" stroke="#990000" stroke-width="2"/>
<rect x="598" y="627" width="25" height="65" fill="url(#h)"/>
<rect x="599" y="628" width="23" height="64" fill="none" stroke="#990000" stroke-width="2"/>
<rect x="627" y="662" width="25" height="30" fill="url(#h)"/>
<rect x="628" y="663" width="23" height="29" fill="none" stroke="#990000" stroke-width="2"/>
<rect x="656" y="609" width="25" height="83" fill="url(#h)"/>
<rect x="657" y="610" width="23" height="82" fill="none" stroke="#990000" stroke-width="2"/>
<rect x="685" y="458" width="25" height="234" fill="url(#h)"/>
<rect x="686" y="459" width="23" height="233" fill="none" stroke="#990000" stroke-width="2"/>
<rect x="714" y="545" width="25" height="147" fill="url(#h)"/>
<rect x="715" y="546" width="23" height="146" fill="none" stroke="#990000" stroke-width="2"/>
<rect x="743" y="603" width="25" height="89" fill="url(#h)"/>
<rect x="744" y="604" width="23" height="88" fill="none" stroke="#990000" stroke-width="2"/>
<rect x="801" y="399" width="25" height="293" fill="url(#h)"/>
<rect x="802" y="400" width="23" height="292" fill="none" stroke="#990000" stroke-width="2"/>
<rect x="830" y="458" width="25" height="234" fill="url(#h)"/>
<rect x="831" y="459" width="23" height="233" fill="none" stroke="#990000" stroke-width="2"/>
<rect x="859" y="545" width="25" height="147" fill="url(#h)"/>
<rect x="860" y="546" width="23" height="146" fill="none" stroke="#990000" stroke-width="2"/>
<rect x="888" y="574" width="25" height="118" fill="url(#h)"/>
<rect x="889" y="575" width="23" height="117" fill="none" stroke="#990000" stroke-width="2"/>
<rect x="917" y="603" width="25" height="89" fill="url(#h)"/>
<rect x="918" y="604" width="23" height="88" fill="none" stroke="#990000" stroke-width="2"/>
</g>
<polyline fill="none" stroke="#ff2020" stroke-width="2.5" stroke-linejoin="round" points="60.0,683.7 89.0,679.1 118.0,677.3 147.0,677.9 176.0,687.8 205.0,653.4 234.0,638.8 263.0,690.7 292.0,690.2 321.0,658.1 350.0,675.6 379.0,687.2 408.0,644.1 437.0,678.5 466.0,665.1 495.0,692.5 524.0,680.8 553.0,687.8 582.0,679.1 611.0,687.2 640.0,684.9 669.0,682.6 698.0,673.8 727.0,665.7 756.0,682.6 785.0,692.5 814.0,672.7 843.0,669.7 872.0,679.1 901.0,682.0 930.0,686.7"/>
<g shape-rendering="crispEdges">
<path fill="#ff2020" d="M59 680h2v1h2v2h1v2h-1v2h-2v1h-2v-1h-2v-2h-1v-2h1v-2h2z"/>
<path fill="#ff2020" d="M88 675h2v1h2v2h1v2h-1v2h-2v1h-2v-1h-2v-2h-1v-2h1v-2h2z"/>
<path fill="#ff2020" d="M117 673h2v1h2v2h1v2h-1v2h-2v1h-2v-1h-2v-2h-1v-2h1v-2h2z"/>
<path fill="#ff2020" d="M146 674h2v1h2v2h1v2h-1v2h-2v1h-2v-1h-2v-2h-1v-2h1v-2h2z"/>
<path fill="#ff2020" d="M175 684h2v1h2v2h1v2h-1v2h-2v1h-2v-1h-2v-2h-1v-2h1v-2h2z"/>
<path fill="#ff2020" d="M204 649h2v1h2v2h1v2h-1v2h-2v1h-2v-1h-2v-2h-1v-2h1v-2h2z"/>
<path fill="#ff2020" d="M233 635h2v1h2v2h1v2h-1v2h-2v1h-2v-1h-2v-2h-1v-2h1v-2h2z"/>
<path fill="#ff2020" d="M262 687h2v1h2v2h1v2h-1v2h-2v1h-2v-1h-2v-2h-1v-2h1v-2h2z"/>
<path fill="#ff2020" d="M291 686h2v1h2v2h1v2h-1v2h-2v1h-2v-1h-2v-2h-1v-2h1v-2h2z"/>
<path fill="#ff2020" d="M320 654h2v1h2v2h1v2h-1v2h-2v1h-2v-1h-2v-2h-1v-2h1v-2h2z"/>
<path fill="#ff2020" d="M349 672h2v1h2v2h1v2h-1v2h-2v1h-2v-1h-2v-2h-1v-2h1v-2h2z"/>
<path fill="#ff2020" d="M378 683h2v1h2v2h1v2h-1v2h-2v1h-2v-1h-2v-2h-1v-2h1v-2h2z"/>
<path fill="#ff2020" d="M407 640h2v1h2v2h1v2h-1v2h-2v1h-2v-1h-2v-2h-1v-2h1v-2h2z"/>
<path fill="#ff2020" d="M436 674h2v1h2v2h1v2h-1v2h-2v1h-2v-1h-2v-2h-1v-2h1v-2h2z"/>
<path fill="#ff2020" d="M465 661h2v1h2v2h1v2h-1v2h-2v1h-2v-1h-2v-2h-1v-2h1v-2h2z"/>
<path fill="#ff2020" d="M494 688h2v1h2v2h1v2h-1v2h-2v1h-2v-1h-2v-2h-1v-2h1v-2h2z"/>
<path fill="#ff2020" d="M523 677h2v1h2v2h1v2h-1v2h-2v1h-2v-1h-2v-2h-1v-2h1v-2h2z"/>
<path fill="#ff2020" d="M552 684h2v1h2v2h1v2h-1v2h-2v1h-2v-1h-2v-2h-1v-2h1v-2h2z"/>
<path fill="#ff2020" d="M581 675h2v1h2v2h1v2h-1v2h-2v1h-2v-1h-2v-2h-1v-2h1v-2h2z"/>
<path fill="#ff2020" d="M610 683h2v1h2v2h1v2h-1v2h-2v1h-2v-1h-2v-2h-1v-2h1v-2h2z"/>
<path fill="#ff2020" d="M639 681h2v1h2v2h1v2h-1v2h-2v1h-2v-1h-2v-2h-1v-2h1v-2h2z"/>
<path fill="#ff2020" d="M668 679h2v1h2v2h1v2h-1v2h-2v1h-2v-1h-2v-2h-1v-2h1v-2h2z"/>
<path fill="#ff2020" d="M697 670h2v1h2v2h1v2h-1v2h-2v1h-2v-1h-2v-2h-1v-2h1v-2h2z"/>
<path fill="#ff2020" d="M726 662h2v1h2v2h1v2h-1v2h-2v1h-2v-1h-2v-2h-1v-2h1v-2h2z"/>
<path fill="#ff2020" d="M755 679h2v1h2v2h1v2h-1v2h-2v1h-2v-1h-2v-2h-1v-2h1v-2h2z"/>
<path fill="#ff2020" d="M784 688h2v1h2v2h1v2h-1v2h-2v1h-2v-1h-2v-2h-1v-2h1v-2h2z"/>
<path fill="#ff2020" d="M813 669h2v1h2v2h1v2h-1v2h-2v1h-2v-1h-2v-2h-1v-2h1v-2h2z"/>
<path fill="#ff2020" d="M842 666h2v1h2v2h1v2h-1v2h-2v1h-2v-1h-2v-2h-1v-2h1v-2h2z"/>
<path fill="#ff2020" d="M871 675h2v1h2v2h1v2h-1v2h-2v1h-2v-1h-2v-2h-1v-2h1v-2h2z"/>
<path fill="#ff2020" d="M900 678h2v1h2v2h1v2h-1v2h-2v1h-2v-1h-2v-2h-1v-2h1v-2h2z"/>
<path fill="#ff2020" d="M929 683h2v1h2v2h1v2h-1v2h-2v1h-2v-1h-2v-2h-1v-2h1v-2h2z"/>
</g>
<g shape-rendering="crispEdges" fill="#000"><rect x="45" y="50" width="900" height="1"/><rect x="45" y="692" width="900" height="1"/><rect x="45" y="50" width="1" height="643"/><rect x="944" y="50" width="1" height="643"/></g>
<text class="t" x="494.1" y="27" text-anchor="middle">DEVILS TOWER Average and Extreme Daily Snowfalls in December (1932-1958)</text>
<text class="s" transform="translate(35.6,696) scale(0.9,1)" text-anchor="end">0</text>
<text class="s" transform="translate(35.6,638) scale(0.9,1)" text-anchor="end">1</text>
<text class="s" transform="translate(35.6,579) scale(0.9,1)" text-anchor="end">2</text>
<text class="s" transform="translate(35.6,521) scale(0.9,1)" text-anchor="end">3</text>
<text class="s" transform="translate(35.6,463) scale(0.9,1)" text-anchor="end">4</text>
<text class="s" transform="translate(35.6,404) scale(0.9,1)" text-anchor="end">5</text>
<text class="s" transform="translate(35.6,346) scale(0.9,1)" text-anchor="end">6</text>
<text class="s" transform="translate(35.6,287) scale(0.9,1)" text-anchor="end">7</text>
<text class="s" transform="translate(35.6,229) scale(0.9,1)" text-anchor="end">8</text>
<text class="s" transform="translate(35.6,171) scale(0.9,1)" text-anchor="end">9</text>
<text class="s" transform="translate(35.6,112) scale(0.9,1)" text-anchor="end">10</text>
<text class="s" transform="translate(35.6,54) scale(0.9,1)" text-anchor="end">11</text>
<text class="s" transform="translate(59.4,708) scale(0.9,1)" text-anchor="middle">1</text>
<text class="s" transform="translate(88.4,708) scale(0.9,1)" text-anchor="middle">2</text>
<text class="s" transform="translate(117.4,708) scale(0.9,1)" text-anchor="middle">3</text>
<text class="s" transform="translate(146.4,708) scale(0.9,1)" text-anchor="middle">4</text>
<text class="s" transform="translate(175.4,708) scale(0.9,1)" text-anchor="middle">5</text>
<text class="s" transform="translate(204.4,708) scale(0.9,1)" text-anchor="middle">6</text>
<text class="s" transform="translate(233.4,708) scale(0.9,1)" text-anchor="middle">7</text>
<text class="s" transform="translate(262.4,708) scale(0.9,1)" text-anchor="middle">8</text>
<text class="s" transform="translate(291.4,708) scale(0.9,1)" text-anchor="middle">9</text>
<text class="s" transform="translate(320.4,708) scale(0.9,1)" text-anchor="middle">10</text>
<text class="s" transform="translate(349.4,708) scale(0.9,1)" text-anchor="middle">11</text>
<text class="s" transform="translate(378.4,708) scale(0.9,1)" text-anchor="middle">12</text>
<text class="s" transform="translate(407.4,708) scale(0.9,1)" text-anchor="middle">13</text>
<text class="s" transform="translate(436.4,708) scale(0.9,1)" text-anchor="middle">14</text>
<text class="s" transform="translate(465.4,708) scale(0.9,1)" text-anchor="middle">15</text>
<text class="s" transform="translate(494.4,708) scale(0.9,1)" text-anchor="middle">16</text>
<text class="s" transform="translate(523.4,708) scale(0.9,1)" text-anchor="middle">17</text>
<text class="s" transform="translate(552.4,708) scale(0.9,1)" text-anchor="middle">18</text>
<text class="s" transform="translate(581.4,708) scale(0.9,1)" text-anchor="middle">19</text>
<text class="s" transform="translate(610.4,708) scale(0.9,1)" text-anchor="middle">20</text>
<text class="s" transform="translate(639.4,708) scale(0.9,1)" text-anchor="middle">21</text>
<text class="s" transform="translate(668.4,708) scale(0.9,1)" text-anchor="middle">22</text>
<text class="s" transform="translate(697.4,708) scale(0.9,1)" text-anchor="middle">23</text>
<text class="s" transform="translate(726.4,708) scale(0.9,1)" text-anchor="middle">24</text>
<text class="s" transform="translate(755.4,708) scale(0.9,1)" text-anchor="middle">25</text>
<text class="s" transform="translate(784.4,708) scale(0.9,1)" text-anchor="middle">26</text>
<text class="s" transform="translate(813.4,708) scale(0.9,1)" text-anchor="middle">27</text>
<text class="s" transform="translate(842.4,708) scale(0.9,1)" text-anchor="middle">28</text>
<text class="s" transform="translate(871.4,708) scale(0.9,1)" text-anchor="middle">29</text>
<text class="s" transform="translate(900.4,708) scale(0.9,1)" text-anchor="middle">30</text>
<text class="s" transform="translate(929.4,708) scale(0.9,1)" text-anchor="middle">31</text>
<text class="d g" font-size="12.6" x="60.0" y="628" text-anchor="middle">1.0</text>
<text class="d g" font-size="12.6" x="88.0" y="569" text-anchor="middle">2.0</text>
<text class="d g" font-size="12.6" x="117.0" y="569" text-anchor="middle">2.0</text>
<text class="d g" font-size="12.6" x="146.0" y="511" text-anchor="middle">3.0</text>
<text class="d g" font-size="12.6" x="176.0" y="628" text-anchor="middle">1.0</text>
<text class="d g" font-size="12.6" x="204.0" y="453" text-anchor="middle">4.0</text>
<text class="d g" font-size="12.6" x="234.0" y="102" text-anchor="middle">10.0</text>
<text class="d g" font-size="12.6" x="262.0" y="668" text-anchor="middle">0.3</text>
<text class="d g" font-size="12.6" x="291.0" y="657" text-anchor="middle">0.5</text>
<text class="d g" font-size="12.6" x="320.0" y="453" text-anchor="middle">4.0</text>
<text class="d g" font-size="12.6" x="349.0" y="511" text-anchor="middle">3.0</text>
<text class="d g" font-size="12.6" x="378.0" y="639" text-anchor="middle">0.8</text>
<text class="d g" font-size="12.6" x="407.0" y="365" text-anchor="middle">5.5</text>
<text class="d g" font-size="12.6" x="436.0" y="569" text-anchor="middle">2.0</text>
<text class="d g" font-size="12.6" x="465.0" y="336" text-anchor="middle">6.0</text>
<text class="d g" font-size="12.6" x="494.0" y="686" text-anchor="middle">0.0</text>
<text class="d g" font-size="12.6" x="523.0" y="511" text-anchor="middle">3.0</text>
<text class="d g" font-size="12.6" x="553.0" y="628" text-anchor="middle">1.0</text>
<text class="d g" font-size="12.6" x="581.0" y="569" text-anchor="middle">2.0</text>
<text class="d g" font-size="12.6" x="611.0" y="622" text-anchor="middle">1.1</text>
<text class="d g" font-size="12.6" x="639.0" y="657" text-anchor="middle">0.5</text>
<text class="d g" font-size="12.6" x="669.0" y="604" text-anchor="middle">1.4</text>
<text class="d g" font-size="12.6" x="697.0" y="453" text-anchor="middle">4.0</text>
<text class="d g" font-size="12.6" x="726.0" y="540" text-anchor="middle">2.5</text>
<text class="d g" font-size="12.6" x="756.0" y="598" text-anchor="middle">1.5</text>
<text class="d g" font-size="12.6" x="784.0" y="686" text-anchor="middle">0.0</text>
<text class="d g" font-size="12.6" x="813.0" y="394" text-anchor="middle">5.0</text>
<text class="d g" font-size="12.6" x="842.0" y="453" text-anchor="middle">4.0</text>
<text class="d g" font-size="12.6" x="871.0" y="540" text-anchor="middle">2.5</text>
<text class="d g" font-size="12.6" x="900.0" y="569" text-anchor="middle">2.0</text>
<text class="d g" font-size="12.6" x="930.0" y="598" text-anchor="middle">1.5</text>
<text class="d" font-size="16" letter-spacing="0.12" x="495" y="721" text-anchor="middle">Day of Month</text>
<text class="d" font-size="16" transform="translate(16,373.6) rotate(-90)" text-anchor="middle" letter-spacing="0.45">Snowfall (Inches)</text>
<text class="d g" font-size="12.6" x="342.8" y="734" textLength="109.4" lengthAdjust="spacing">Record Snowfall</text>
<text class="d g" font-size="12.6" x="536.6" y="734" textLength="118.2" lengthAdjust="spacing">Average Snowfall</text>
<g shape-rendering="crispEdges"><rect x="457" y="726" width="45" height="8" fill="url(#h)"/><rect x="458" y="727" width="43" height="6" fill="none" stroke="#990000" stroke-width="2"/></g>
<line x1="662" x2="707" y1="730" y2="730" stroke="#ff2020" stroke-width="2"/><path fill="#ff2020" d="M683 726h2v1h2v2h1v2h-1v2h-2v1h-2v-1h-2v-2h-1v-2h1v-2h2z"/>
<text class="d g" font-size="10.8" x="7" y="748" textLength="552.6" lengthAdjust="spacing">Produced by the Wyoming Water Resources Data System/State Climate Office http://www.wrds.uwyo.edu</text>
<text class="d g" font-size="10.8" x="7" y="763" textLength="498.8" lengthAdjust="spacing">Data courtesy NOAA National Centers for Environmental Information http://www.ncei.noaa.gov</text>
<text class="d g" font-size="10.8" x="828.8" y="763" textLength="116.4" lengthAdjust="spacing">Created: 26-Sep-2024</text>
</svg></body></html>
